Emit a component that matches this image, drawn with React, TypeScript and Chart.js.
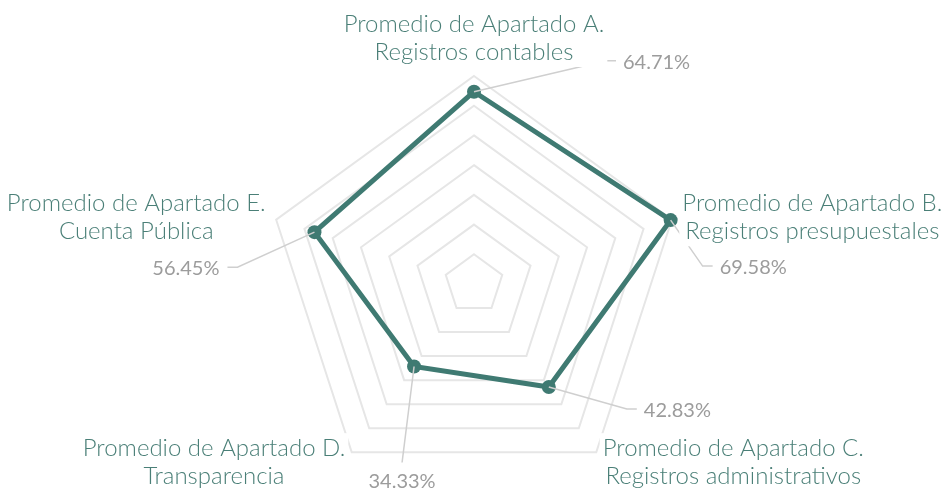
import React, { useEffect, useRef } from "react";
import { Chart, registerables } from "chart.js";

Chart.register(...registerables);

const categories: string[][] = [
  ["Promedio de Apartado A.", "Registros contables"],
  ["Promedio de Apartado B.", "Registros presupuestales"],
  ["Promedio de Apartado C.", "Registros administrativos"],
  ["Promedio de Apartado D.", "Transparencia"],
  ["Promedio de Apartado E.", "Cuenta Pública"],
];
const values: number[] = [64.71, 69.58, 42.83, 34.33, 56.45];
const valueLabels: string[] = ["64.71%", "69.58%", "42.83%", "34.33%", "56.45%"];
const scaleMax = 70;
const scaleStep = 10;

const TEAL = "#3f7a72";
const LABEL_TEAL = "#4a7f77";
const GRAY_TEXT = "#9c9c9c";
const LEADER = "#cfcfcf";
const FONT = "Lato, 'Open Sans', sans-serif";

// leader-line geometry relative to each data point (first segment, then a short horizontal dash)
const leaderOffsets: { dx: number; dy: number; dash: number }[] = [
  { dx: 132, dy: -31, dash: 10 },
  { dx: 32, dy: 46, dash: 10 },
  { dx: 78, dy: 22, dash: 10 },
  { dx: -12, dy: 96, dash: 0 },
  { dx: -77, dy: 35, dash: -10 },
];

const labelPlugin = {
  id: "customLabels",
  afterDatasetsDraw(chart: any) {
    const ctx = chart.ctx as CanvasRenderingContext2D;
    const meta = chart.getDatasetMeta(0);
    const scale = chart.scales.r;
    ctx.save();
    // leader lines + value labels
    meta.data.forEach((pt: any, i: number) => {
      const o = leaderOffsets[i];
      const ex = pt.x + o.dx;
      const ey = pt.y + o.dy;
      ctx.strokeStyle = LEADER;
      ctx.lineWidth = 1.5;
      ctx.beginPath();
      ctx.moveTo(pt.x, pt.y);
      ctx.lineTo(ex, ey);
      ctx.lineTo(ex + o.dash, ey);
      ctx.stroke();
      ctx.fillStyle = GRAY_TEXT;
      ctx.font = `400 20px ${FONT}`;
      if (o.dash > 0) {
        ctx.textAlign = "left";
        ctx.textBaseline = "middle";
        ctx.fillText(valueLabels[i], ex + o.dash + 7, ey + 1.5);
      } else if (o.dash < 0) {
        ctx.textAlign = "right";
        ctx.textBaseline = "middle";
        ctx.fillText(valueLabels[i], ex + o.dash - 8, ey + 1.5);
      } else {
        ctx.textAlign = "center";
        ctx.textBaseline = "middle";
        ctx.fillText(valueLabels[i], ex, ey + 19);
      }
    });
    // point (category) labels with white background
    const lineH = 28;
    ctx.font = `300 24px ${FONT}`;
    categories.forEach((lines, i) => {
      const angle = scale.getIndexAngle(i) - Math.PI / 2;
      const pos = scale.getPointPosition(i, scale.drawingArea + 11);
      const cos = Math.cos(angle);
      const w = Math.max(...lines.map((l) => ctx.measureText(l).width));
      const h = lines.length * lineH;
      let left: number;
      let top: number;
      if (Math.abs(cos) < 0.01) {
        left = pos.x - w / 2;
        top = pos.y - h;
      } else {
        left = cos > 0 ? pos.x : pos.x - w;
        top = pos.y - h / 2;
      }
      ctx.fillStyle = "#ffffff";
      ctx.fillRect(left - 3, top, w + 6, h + 2);
      ctx.fillStyle = LABEL_TEAL;
      ctx.textAlign = "center";
      ctx.textBaseline = "middle";
      lines.forEach((l, j) => {
        ctx.fillText(l, left + w / 2, top + lineH / 2 + 1 + j * lineH);
      });
    });
    ctx.restore();
  },
};

export default function App() {
  const ref = useRef<HTMLCanvasElement | null>(null);
  useEffect(() => {
    if (!ref.current) return;
    const chart = new Chart(ref.current, {
      type: "radar",
      data: {
        labels: categories,
        datasets: [
          {
            data: values,
            borderColor: TEAL,
            backgroundColor: "rgba(0,0,0,0)",
            borderWidth: 5,
            pointRadius: 7,
            pointBackgroundColor: TEAL,
            pointBorderColor: TEAL,
            pointBorderWidth: 0,
            fill: false,
          },
        ],
      },
      options: {
        animation: false,
        responsive: true,
        maintainAspectRatio: false,
        layout: { padding: { top: 68, left: 3, right: 8, bottom: 0 } },
        plugins: { legend: { display: false }, tooltip: { enabled: false } },
        scales: {
          r: {
            min: 0,
            max: scaleMax,
            ticks: { stepSize: scaleStep, display: false },
            grid: { color: "#e6e6e6", lineWidth: 2 },
            angleLines: { display: false },
            pointLabels: { display: false },
          },
        },
      },
      plugins: [labelPlugin],
    });
    return () => chart.destroy();
  }, []);
  return (
    <div style={{ position: "fixed", left: 8, top: 8, width: 937, height: 485 }}>
      <canvas ref={ref} />
    </div>
  );
}
